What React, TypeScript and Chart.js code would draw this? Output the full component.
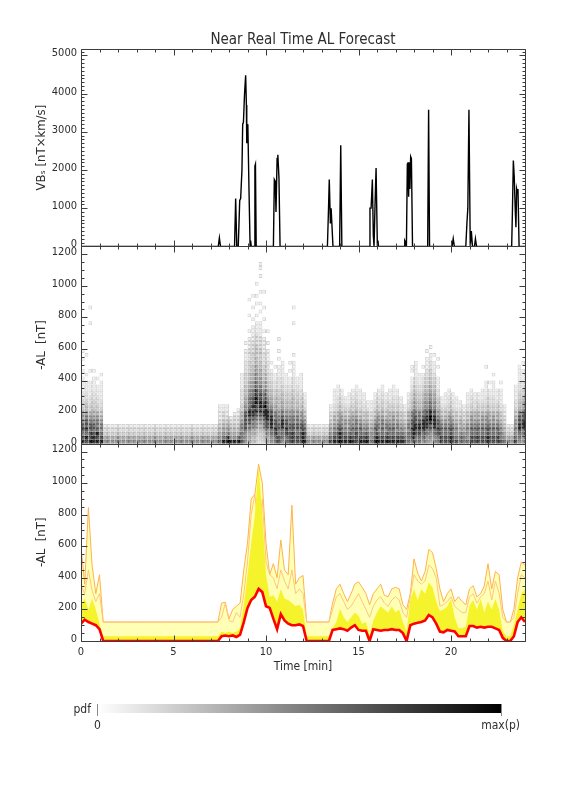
import React, { useEffect, useRef } from "react";
import { Chart, registerables } from "chart.js";

Chart.register(...registerables);

const FONT = "'DejaVu Sans Condensed', 'DejaVu Sans', sans-serif";
const TEXT = "#2e2e2e";

// ---------- axis ticks ----------
const timeTicks = [0, 5, 10, 15, 20];
const timeMinorStep = 1;
const vbsTicks = [0, 1000, 2000, 3000, 4000, 5000];
const vbsMinorStep = 100;
const alTicks = [0, 200, 400, 600, 800, 1000, 1200];
const alMinorStep = 50;

// ---------- panel 1 : VBs [nT x km/s] ----------
const vbsTime = [
  0,
  7.42, 7.48, 7.54,
  8.3, 8.36, 8.42,
  8.5, 8.58, 8.63, 8.7, 8.74, 8.78, 8.84, 8.9, 8.94, 8.96, 8.98, 9.02, 9.08, 9.14,
  9.17, 9.2,
  9.36, 9.4, 9.43, 9.47,
  10.4, 10.45, 10.5, 10.54, 10.6, 10.64, 10.7, 10.76,
  13.32, 13.38, 13.42, 13.48, 13.52, 13.56, 13.62,
  13.98, 14.04, 14.1,
  15.58, 15.62, 15.68, 15.75, 15.8, 15.84, 15.9, 15.95, 16.02, 16.05, 16.08,
  17.46, 17.5, 17.55, 17.59, 17.64, 17.67, 17.71, 17.74, 17.78, 17.82, 17.86, 17.92,
  18.74, 18.79, 18.84,
  20.06, 20.12, 20.18,
  20.8, 20.86, 20.91, 20.97, 21.04, 21.1, 21.16, 21.27, 21.32, 21.38,
  23.28, 23.32, 23.37, 23.42, 23.47, 23.51, 23.55, 23.59, 23.62, 23.68, 24,
];
const vbsValue = [
  0,
  0, 220, 0,
  0, 1250, 0,
  0, 1200, 1250, 2000, 3200, 3250, 4000, 4480, 3700, 2700, 3200, 3150, 1500, 0,
  150, 0,
  0, 2100, 2150, 0,
  0, 1750, 1700, 900, 2300, 2400, 1800, 0,
  0, 1000, 1750, 600, 1000, 1000, 0,
  0, 2650, 0,
  0, 1000, 1000, 1750, 300, 0, 1200, 2050, 0, 150, 0,
  0, 150, 100, 0, 2150, 2200, 1300, 2200, 1500, 2350, 2300, 0,
  0, 3580, 0,
  0, 200, 0,
  0, 600, 1000, 3580, 0, 400, 0, 0, 200, 0,
  0, 900, 2250, 1800, 1000, 500, 1500, 1400, 1500, 0, 0,
];

// ---------- panel 3 : forecast bands of -AL [nT] ----------
const bandTime = [
  0, 0.2, 0.4, 0.6, 0.8,
  1, 1.2, 1.4, 1.6, 1.8,
  2, 2.2, 2.4, 2.6, 2.8,
  3, 3.2, 3.4, 3.6, 3.8,
  4, 4.2, 4.4, 4.6, 4.8,
  5, 5.2, 5.4, 5.6, 5.8,
  6, 6.2, 6.4, 6.6, 6.8,
  7, 7.2, 7.4, 7.6, 7.8,
  8, 8.2, 8.4, 8.6, 8.8,
  9, 9.2, 9.4, 9.6, 9.8,
  10, 10.2, 10.4, 10.6, 10.8,
  11, 11.2, 11.4, 11.6, 11.8,
  12, 12.2, 12.4, 12.6, 12.8,
  13, 13.2, 13.4, 13.6, 13.8,
  14, 14.2, 14.4, 14.6, 14.8,
  15, 15.2, 15.4, 15.6, 15.8,
  16, 16.2, 16.4, 16.6, 16.8,
  17, 17.2, 17.4, 17.6, 17.8,
  18, 18.2, 18.4, 18.6, 18.8,
  19, 19.2, 19.4, 19.6, 19.8,
  20, 20.2, 20.4, 20.6, 20.8,
  21, 21.2, 21.4, 21.6, 21.8,
  22, 22.2, 22.4, 22.6, 22.8,
  23, 23.2, 23.4, 23.6, 23.8,
  24,
];
const alRed = [
  110, 135, 120, 110, 100,
  75, 0, 0, 0, 0,
  0, 0, 0, 0, 0,
  0, 0, 0, 0, 0,
  0, 0, 0, 0, 0,
  0, 0, 0, 0, 0,
  0, 0, 0, 0, 0,
  0, 0, 0, 30, 35,
  30, 35, 25, 40, 120,
  210, 260, 280, 330, 310,
  220, 210, 140, 75, 170,
  130, 110, 100, 100, 105,
  95, 0, 0, 0, 0,
  0, 0, 0, 70, 75,
  80, 75, 65, 85, 100,
  70, 65, 65, 0, 75,
  70, 65, 70, 70, 75,
  70, 70, 50, 0, 100,
  110, 115, 120, 130, 165,
  150, 110, 60, 55, 70,
  65, 60, 30, 30, 30,
  95, 95, 85, 90, 85,
  90, 90, 80, 70, 20,
  0, 0, 30, 120, 150,
  120,
];
const alYellow = [
  230, 270, 200, 270, 200,
  110, 30, 30, 30, 30,
  30, 30, 30, 30, 30,
  30, 30, 30, 30, 30,
  30, 30, 30, 30, 30,
  30, 30, 30, 30, 30,
  30, 30, 30, 30, 30,
  30, 30, 30, 60, 50,
  60, 50, 60, 80, 230,
  420, 620, 800, 1110, 800,
  420, 280, 290, 250, 330,
  270, 260, 240, 220, 230,
  200, 30, 30, 30, 30,
  30, 30, 30, 80, 120,
  205, 150, 120, 150, 180,
  160, 110, 120, 40, 130,
  180, 220, 200, 180, 220,
  180, 200, 120, 60, 260,
  330, 260, 330, 300, 370,
  340, 250, 190, 200, 220,
  266, 150, 80, 80, 90,
  224, 260, 200, 266, 180,
  250, 200, 266, 200, 60,
  30, 30, 100, 200, 300,
  330,
];
const alInner = [
  350, 300, 450, 320, 250,
  300, 120, 120, 120, 120,
  120, 120, 120, 120, 120,
  120, 120, 120, 120, 120,
  120, 120, 120, 120, 120,
  120, 120, 120, 120, 120,
  120, 120, 120, 120, 120,
  120, 120, 120, 150, 240,
  130, 120, 180, 150, 300,
  500, 800, 930, 700, 900,
  500, 420, 400, 330, 450,
  380, 330, 450, 300, 330,
  300, 120, 120, 120, 120,
  120, 120, 120, 200, 280,
  300, 250, 200, 220, 260,
  300, 250, 200, 150, 220,
  260, 280, 240, 220, 260,
  280, 260, 180, 150, 280,
  420, 380, 360, 380, 480,
  460, 400, 220, 230, 250,
  280, 220, 200, 180, 180,
  280, 300, 240, 280, 300,
  380, 260, 380, 300, 150,
  120, 120, 150, 300, 420,
  400,
];
const alUpper = [
  600, 360, 845, 480, 300,
  420, 120, 120, 120, 120,
  120, 120, 120, 120, 120,
  120, 120, 120, 120, 120,
  120, 120, 120, 120, 120,
  120, 120, 120, 120, 120,
  120, 120, 120, 120, 120,
  120, 120, 120, 240, 245,
  140, 200, 220, 240, 450,
  620, 900, 930, 1120, 1000,
  620, 420, 490, 400, 640,
  450, 420, 860, 360, 400,
  415, 120, 120, 120, 120,
  120, 120, 120, 240, 330,
  360, 300, 250, 300, 360,
  375, 340, 300, 230, 300,
  330, 360, 290, 280, 330,
  340, 330, 230, 200, 300,
  520, 430, 380, 440, 580,
  560, 460, 330, 250, 300,
  330, 250, 280, 250, 230,
  330, 350, 280, 300, 350,
  490, 330, 440, 420, 200,
  120, 120, 200, 400, 500,
  480,
];

// ---------- panel 2 : pdf of -AL (columns of 0.2 min, bins of 25 nT, bottom bin first) ----------
// '.' = empty, '1'..'9' = pdf level (9 = max(p)); '|' only groups 10 bins for reading
const heatColumnWidth = 0.2;
const heatBinSize = 25;
const heatShade = [255, 241, 226, 209, 190, 168, 142, 110, 68, 10];
const Q = "65321";
const heatColumns = [
  "9878765543|3221111.1.|.1.1",
  "8978776544|322111.1..|..1",
  "9887765433|221111..1.|..........|1...1",
  "9987765443|3221111.1.",
  "9897665433|22111.1",
  "9876654332|211111.1",
  Q, Q, Q, Q, Q, Q, Q, Q, Q, Q,
  Q, Q, Q, Q, Q, Q, Q, Q, Q, Q,
  Q, Q, Q, Q, Q, Q, Q, Q, Q, Q,
  Q,
  "7654321111",
  "9765432211",
  "9865432111",
  "9654321",
  "96543221",
  "975432211",
  "8776654433|22221111",
  "6667777766|5544433322|2111.1",
  "5556677887|7766554433|3222111.1.|..1...1",
  "4455667889|8877665544|3332221111|.1..1..1",
  "3344556788|9988776655|4433322211|1.1..1.1..1",
  "2334456789|9887766554|4333222111|1..1.1..1.|..1.11",
  "3445667889|8776554433|2221111.1.|.1..1...1",
  "5566778887|7655443322|2111.1..1",
  "6677888776|554433221.|1",
  "7788776655|44332211.1",
  "8877766554|4433222111|.1.1..1",
  "6777887665|5443322111|1",
  "7788776554|43322111",
  "8887766554|4332211.1.|1",
  "8887766554|4433222111|1.1.......|1...1",
  "8877766554|4332211",
  "8887765544|33221111",
  "9887654332|211",
  Q, Q, Q, Q, Q, Q,
  "8765432211",
  "9876544322|1111",
  "9887654433|22111",
  "9887655433|2211",
  "9876554332|11",
  "9876554332|111",
  "9877655433|2211",
  "8887665443|32211",
  "9877654332|2111",
  "9876543322|111",
  "9876543321|1",
  "7665432211|1",
  "9877654332|211",
  "9876655433|2211",
  "9877665443|32211",
  "9876654332|211",
  "9877654433|2111",
  "9877655433|22111",
  "9876654433|2211",
  "9876543322|11",
  "8765432211",
  "7776654432|211",
  "7888776654|4332211.11",
  "7788877665|5443322111|1",
  "7788876654|43322111",
  "6778887665|54433221.1",
  "6677888776|6554433221|11.1",
  "5667789887|7665544332|211.1",
  "6677888776|6554433211|1.1",
  "7788776554|4322111..1|.1",
  "8877654332|11",
  "8877654332|111",
  "8877655433|2211",
  "8877654332|211",
  "8766543321|11",
  "7765443221|1",
  "7765432211",
  "7666543322|111",
  "8877655433|2211",
  "8877654432|211",
  "8877654433|211",
  "8877655433|2111",
  "8877655433|221111...1",
  "8877654433|2211.1",
  "8877655433|221111.1",
  "8877654433|2111",
  "8776543322|1111.1",
  "7654322111",
  Q, Q,
  "8766554332|21111",
  "6778877654|4332221111",
  "6677887765|543322111.|1",
];

function buildHeat() {
  const data: { x: number; y: [number, number] }[] = [];
  const fill: string[] = [];
  const border: string[] = [];
  heatColumns.forEach((col, i) => {
    const cells = col.replace(/\|/g, "");
    for (let b = 0; b < cells.length; b++) {
      const ch = cells[b];
      if (ch === ".") continue;
      const k = Number(ch);
      data.push({ x: (i + 0.5) * heatColumnWidth, y: [b * heatBinSize, (b + 1) * heatBinSize] });
      const g = heatShade[k];
      const gb = Math.max(0, g - 30);
      fill.push(`rgb(${g},${g},${g})`);
      border.push(`rgb(${gb},${gb},${gb})`);
    }
  });
  return { data, fill, border };
}

const framePlugin = {
  id: "idlFrame",
  afterDatasetsDraw(chart: any) {
    const { ctx, chartArea } = chart;
    const xs = chart.scales.x;
    const panels = [
      { id: "yVB", ticks: vbsTicks, minor: vbsMinorStep },
      { id: "yAL2", ticks: alTicks, minor: alMinorStep },
      { id: "yAL3", ticks: alTicks, minor: alMinorStep },
    ];
    const L = Math.round(chartArea.left) + 0.5;
    const R = Math.round(chartArea.right) + 0.5;
    ctx.save();
    ctx.strokeStyle = "#3c3c3c";
    ctx.lineWidth = 1;
    for (const p of panels) {
      const s = chart.scales[p.id];
      const T = Math.round(s.top) + 0.5;
      const B = Math.round(s.bottom) + 0.5;
      ctx.beginPath();
      ctx.rect(L, T, R - L, B - T);
      for (let v = s.min; v <= s.max + 1e-6; v += p.minor) {
        const py = Math.round(s.getPixelForValue(v)) + 0.5;
        if (py < T - 0.1 || py > B + 0.1) continue;
        const len = p.ticks.includes(v) ? 6 : 3;
        ctx.moveTo(L, py);
        ctx.lineTo(L + len, py);
        ctx.moveTo(R, py);
        ctx.lineTo(R - len, py);
      }
      for (let t = xs.min; t <= xs.max + 1e-6; t += timeMinorStep) {
        const px = Math.round(xs.getPixelForValue(t)) + 0.5;
        const len = timeTicks.includes(t) ? 6 : 3;
        ctx.moveTo(px, T);
        ctx.lineTo(px, T + len);
        ctx.moveTo(px, B);
        ctx.lineTo(px, B - len);
      }
      ctx.stroke();
    }
    ctx.restore();
  },
};

function yScale(min: number, max: number, ticks: number[], title: string, weight: number) {
  return {
    type: "linear",
    position: "left",
    stack: "panels",
    stackWeight: 1,
    weight,
    min,
    max,
    offset: false,
    grid: { display: false, drawTicks: false },
    border: { display: false },
    ticks: {
      font: { family: FONT, size: 11 },
      color: TEXT,
      padding: 4,
      labelOffset: -2,
      autoSkip: false,
      callback: (v: any) => String(v),
    },
    afterBuildTicks: (s: any) => {
      s.ticks = ticks.map((v) => ({ value: v }));
    },
    title: {
      display: true,
      text: title,
      font: { family: FONT, size: 13 },
      color: TEXT,
      padding: { top: 34, bottom: 0 },
    },
    afterFit: (s: any) => {
      s.width = 81;
    },
  };
}

export default function App() {
  const ref = useRef<HTMLCanvasElement>(null);

  useEffect(() => {
    const canvas = ref.current;
    if (!canvas) return;
    const heat = buildHeat();
    const band = (vals: number[]) => bandTime.map((t, i) => ({ x: t, y: vals[i] }));
    const vbs = vbsTime.map((t, i) => ({ x: t, y: vbsValue[i] }));

    const chart = new Chart(canvas, {
      type: "line",
      data: {
        datasets: [
          {
            type: "line",
            label: "AL forecast",
            data: band(alRed),
            yAxisID: "yAL3",
            borderColor: "#ff0000",
            borderWidth: 2.6,
            pointRadius: 0,
            fill: false,
            tension: 0,
            order: 0,
          },
          {
            type: "line",
            label: "inner band",
            data: band(alYellow),
            yAxisID: "yAL3",
            borderColor: "rgba(0,0,0,0)",
            borderWidth: 0,
            backgroundColor: "#f5f42c",
            pointRadius: 0,
            fill: "-1",
            tension: 0,
            order: 1,
          },
          {
            type: "line",
            label: "inner line",
            data: band(alInner),
            yAxisID: "yAL3",
            borderColor: "#ffc680",
            borderWidth: 1,
            pointRadius: 0,
            fill: false,
            tension: 0,
            order: 2,
          },
          {
            type: "line",
            label: "outer band",
            data: band(alUpper),
            yAxisID: "yAL3",
            borderColor: "#ffb24e",
            borderWidth: 1,
            backgroundColor: "#ffffb6",
            pointRadius: 0,
            fill: "-3",
            tension: 0,
            order: 3,
          },
          {
            type: "line",
            label: "VBs",
            data: vbs,
            yAxisID: "yVB",
            borderColor: "#000000",
            borderWidth: 1.4,
            pointRadius: 0,
            fill: false,
            tension: 0,
            order: 4,
          },
          {
            type: "bar",
            label: "pdf",
            data: heat.data as any,
            yAxisID: "yAL2",
            backgroundColor: heat.fill,
            borderColor: heat.border,
            borderWidth: 1,
            borderSkipped: false,
            barPercentage: 1,
            categoryPercentage: 1,
            inflateAmount: 0,
            grouped: false,
            order: 5,
          } as any,
        ],
      },
      options: {
        responsive: false,
        animation: false,
        events: [],
        layout: { padding: { left: 0, right: 51, top: 0, bottom: 118 } },
        plugins: {
          legend: { display: false },
          tooltip: { enabled: false },
          title: {
            display: true,
            text: "Near Real Time AL Forecast",
            fullSize: false,
            color: TEXT,
            font: { family: FONT, size: 15, weight: "normal" },
            padding: { top: 31, bottom: 0 },
          },
        },
        scales: {
          x: {
            type: "linear",
            position: "bottom",
            min: 0,
            max: 24,
            offset: false,
            grid: { display: false, drawTicks: false },
            border: { display: false },
            ticks: {
              font: { family: FONT, size: 11 },
              color: TEXT,
              padding: 5,
              maxRotation: 0,
              autoSkip: false,
              callback: (v: any) => String(v),
            },
            afterBuildTicks: (s: any) => {
              s.ticks = timeTicks.map((v) => ({ value: v }));
            },
            title: {
              display: true,
              text: "Time [min]",
              font: { family: FONT, size: 12 },
              color: TEXT,
              padding: { top: 0, bottom: 0 },
            },
            afterFit: (s: any) => {
              s.height = 33;
            },
          },
          yAL3: yScale(0, 1250, alTicks, "-AL  [nT]", 1),
          yAL2: yScale(0, 1250, alTicks, "-AL  [nT]", 2),
          yVB: yScale(0, 5170, vbsTicks, "VBₛ [nT×km/s]", 3),
        } as any,
      },
      plugins: [framePlugin],
    } as any);

    return () => chart.destroy();
  }, []);

  const label: React.CSSProperties = {
    position: "absolute",
    fontFamily: FONT,
    fontSize: 12,
    lineHeight: "14px",
    color: TEXT,
  };

  return (
    <div style={{ position: "fixed", left: 0, top: 0, width: 576, height: 792, background: "#fff" }}>
      <canvas ref={ref} width={576} height={792} style={{ position: "absolute", left: 0, top: 0 }} />
      <div style={{ ...label, left: 40, width: 51, top: 702, textAlign: "right" }}>pdf</div>
      <div
        style={{
          position: "absolute",
          left: 97,
          top: 704,
          width: 404,
          height: 9,
          background: "linear-gradient(to right, #ffffff, #000000)",
        }}
      />
      <div style={{ position: "absolute", left: 97, top: 704, width: 1, height: 12, background: "#8a8a8a" }} />
      <div style={{ position: "absolute", left: 501, top: 704, width: 1, height: 12, background: "#8a8a8a" }} />
      <div style={{ ...label, left: 87, width: 21, top: 718, textAlign: "center" }}>0</div>
      <div style={{ ...label, left: 450, width: 70, top: 718, textAlign: "right" }}>max(p)</div>
    </div>
  );
}
